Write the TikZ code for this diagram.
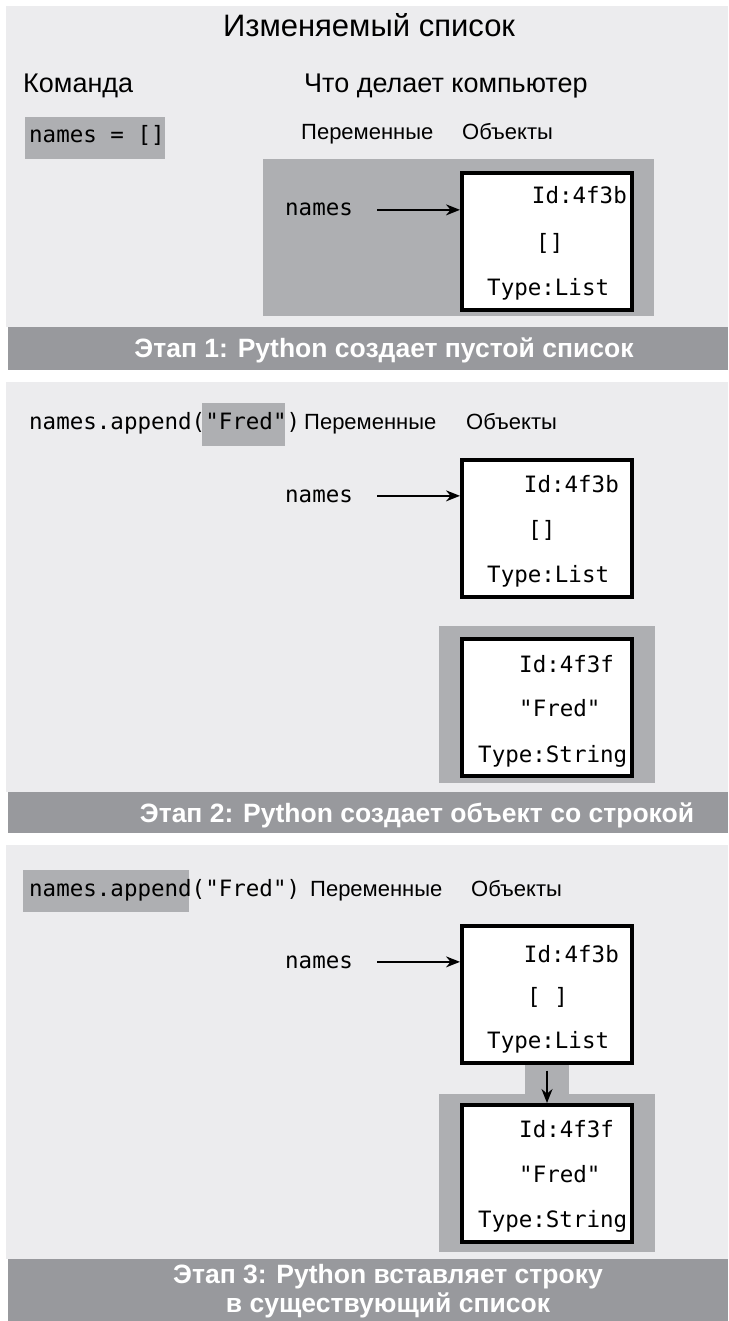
\documentclass[tikz,border=0pt]{standalone}
\usepackage{fontspec}
\setmainfont{Liberation Sans}
\newfontfamily\codefont{DejaVu Sans Mono}
\usetikzlibrary{arrows.meta}
\definecolor{pagegray}{RGB}{236,236,238}
\definecolor{boxgray}{RGB}{174,175,178}
\definecolor{bargray}{RGB}{152,153,157}
\tikzset{
  txt/.style={inner sep=0pt,font=\fontsize{22}{26}\selectfont},
  head/.style={inner sep=0pt,font=\fontsize{27}{32}\selectfont},
  code/.style={inner sep=0pt,font=\codefont\fontsize{22.5}{26}\selectfont},
  stage/.style={inner sep=0pt,text=white,align=center,font=\bfseries\fontsize{26.5}{29}\selectfont},
  obj/.style={draw,line width=4pt,fill=white,minimum width=170pt,minimum height=137pt,inner sep=0pt},
  ptr/.style={-{Stealth[length=14pt,width=11pt]},line width=1.8pt}
}
\begin{document}
\begin{tikzpicture}[x=1pt,y=-1pt]
  \useasboundingbox (0,0) rectangle (728,1321);

    % backgrounds
    \fill[pagegray] (6,6) rectangle (728,327);
    \fill[pagegray] (6,382) rectangle (728,792);
    \fill[pagegray] (6,845) rectangle (728,1259);
    \fill[bargray] (8,327) rectangle (728,370);
    \fill[bargray] (8,792) rectangle (728,833);
    \fill[bargray] (8,1259) rectangle (728,1321);

    % highlights
    \fill[boxgray] (25,117) rectangle (165,159); % names = []
    \fill[boxgray] (263,159) rectangle (654,316);
    \fill[boxgray] (202,403) rectangle (285,446); % "Fred"
    \fill[boxgray] (439,626) rectangle (655,783);
    \fill[boxgray] (23,870) rectangle (189,912); % names.append
    \fill[boxgray] (525,1063) rectangle (569,1094);
    \fill[boxgray] (439,1094) rectangle (655,1252);

    % headings
    \node[inner sep=0pt,font=\fontsize{31}{36}\selectfont,anchor=base] (title) at (369,37) {Изменяемый список};
    \node[head,anchor=base west] (cmd) at (23,93) {Команда};
    \node[head,anchor=base west] (what) at (304,93) {Что делает компьютер};

    % stage 1
    \node[code,anchor=base west] (code1) at (29,143) {names = []};
    \node[txt,anchor=base west] (vars1) at (301,140) {Переменные};
    \node[txt,anchor=base west] (objs1) at (462,140) {Объекты};
    \node[obj] (obj1) at (547,241.5) {};
    \node[code,anchor=base east] (id1) at (627,204) {Id:4f3b};
    \node[code,anchor=base west] (val1) at (536,251) {[]};
    \node[code,anchor=base west] (type1) at (487,295) {Type:List};
    \node[code,anchor=base west] (nm1) at (285,216) {names};
    \draw[ptr,shorten <=24pt] (nm1.east) -- (nm1.east -| obj1.west);
    \node[stage,anchor=base] (stage1) at (384,357) {Этап 1: Python создает пустой список};

    % stage 2
    \node[code,anchor=base west] (code2) at (29,429) {names.append("Fred")};
    \node[txt,anchor=base west] (vars2) at (304,429) {Переменные};
    \node[txt,anchor=base west] (objs2) at (466,429) {Объекты};
    \node[obj] (obj2a) at (547,528) {};
    \node[code,anchor=base east] (id2a) at (619,492) {Id:4f3b};
    \node[code,anchor=base west] (val2a) at (528,537) {[]};
    \node[code,anchor=base west] (type2a) at (487,582) {Type:List};
    \node[code,anchor=base west] (nm2) at (285,502) {names};
    \draw[ptr,shorten <=24pt] (nm2.east) -- (nm2.east -| obj2a.west);
    \node[obj] (obj2b) at (547,707) {};
    \node[code,anchor=base west] (id2b) at (519,672) {Id:4f3f};
    \node[code,anchor=base west] (val2b) at (519,716) {"Fred"};
    \node[code,anchor=base west] (type2b) at (478,762) {Type:String};
    \node[stage,anchor=base] (stage2) at (417,822) {Этап 2: Python создает объект со строкой};

    % stage 3
    \node[code,anchor=base west] (code3) at (29,896) {names.append("Fred")};
    \node[txt,anchor=base west] (vars3) at (310,896) {Переменные};
    \node[txt,anchor=base west] (objs3) at (471,896) {Объекты};
    \node[obj] (obj3a) at (547,994) {};
    \node[code,anchor=base east] (id3a) at (619,962) {Id:4f3b};
    \node[code,anchor=base west] (val3a) at (527,1004) {[ ]};
    \node[code,anchor=base west] (type3a) at (487,1048) {Type:List};
    \node[code,anchor=base west] (nm3) at (285,968) {names};
    \draw[ptr,shorten <=24pt] (nm3.east) -- (nm3.east -| obj3a.west);
    \node[obj] (obj3b) at (547,1173.5) {};
    \node[code,anchor=base west] (id3b) at (519,1137) {Id:4f3f};
    \node[code,anchor=base west] (val3b) at (519,1182) {"Fred"};
    \node[code,anchor=base west] (type3b) at (478,1227) {Type:String};
    \draw[ptr,shorten <=6pt] (obj3a.south) -- (obj3b.north);
    \node[stage,anchor=base] (stage3) at (388,1312) {Этап 3: Python вставляет строку\\в существующий список};

\end{tikzpicture}
\end{document}
